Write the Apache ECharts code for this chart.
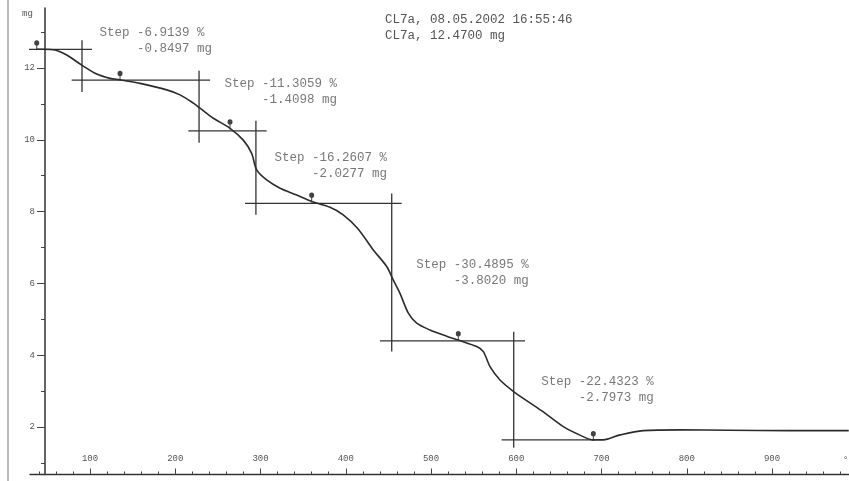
<!DOCTYPE html>
<html>
<head>
<meta charset="utf-8">
<script src="https://cdn.jsdelivr.net/npm/echarts@6/dist/echarts.min.js"></script>
<style>
  html, body { margin: 0; padding: 0; background: #fff; }
  #chart { width: 849px; height: 481px; }
</style>
</head>
<body>
<div id="chart"></div>
<script>
// TGA curve, temperature (°C) vs mass (mg)
var tempC = [37.5, 45, 58.9, 72.7, 90.3, 107.8, 123.5, 135.2, 158.7, 190, 205.6, 221.2, 229, 244.6, 264.2,
  279.8, 289.6, 295.5, 307.2, 322.9, 342.5, 360, 381.5, 397, 414, 432.3, 448, 455.8, 463.6, 473.4, 483.2,
  498.8, 518.4, 532, 553.6, 561.4, 569.2, 580.9, 598.5, 630, 655.2, 676, 690.4, 702, 721.7, 749, 792, 850, 920, 990];
var massMg = [12.52, 12.52, 12.50, 12.36, 12.08, 11.83, 11.71, 11.67, 11.57, 11.39, 11.25, 11.02, 10.88, 10.60, 10.32,
  9.99, 9.62, 9.16, 8.88, 8.65, 8.46, 8.28, 8.12, 7.91, 7.53, 6.93, 6.47, 6.09, 5.72, 5.17, 4.89,
  4.70, 4.53, 4.42, 4.24, 4.10, 3.68, 3.31, 2.96, 2.45, 2.01, 1.76, 1.64, 1.64, 1.78, 1.90, 1.92, 1.91, 1.90, 1.90];

// evaluation markers (inflection points)
var markerT = [37.5, 135.2, 264.2, 360, 532, 690.4];
var markerM = [12.52, 11.67, 10.32, 8.28, 4.42, 1.64];

// step construction lines
var stepSegments = [
  [[23.8, 12.52], [102.3, 12.52]],
  [[90.6, 12.77], [90.6, 11.33]],
  [[78.5, 11.66], [240.8, 11.66]],
  [[227.9, 11.92], [227.9, 9.92]],
  [[215.3, 10.25], [307.2, 10.25]],
  [[294.6, 10.53], [294.6, 7.91]],
  [[281.8, 8.23], [465.6, 8.23]],
  [[453.9, 8.50], [453.9, 4.10]],
  [[440.2, 4.40], [610.3, 4.40]],
  [[597, 4.65], [597, 1.42]],
  [[582.8, 1.64], [690.4, 1.64]]
];

// step texts
var stepPct = ['-6.9139', '-11.3059', '-16.2607', '-30.4895', '-22.4323'];
var stepMg = ['-0.8497', '-1.4098', '-2.0277', '-3.8020', '-2.7973'];
var labelT = [111.7, 258.4, 317, 483.2, 629.9];
var labelM = [13.19, 11.77, 9.71, 6.74, 3.48];

// ticks
var xMajor = [100, 200, 300, 400, 500, 600, 700, 800, 900];
var xMinor = [];
for (var t = 40; t <= 980; t += 20) xMinor.push(t);
var yMajor = [2, 4, 6, 8, 10, 12];
var yMinor = [1, 2, 3, 4, 5, 6, 7, 8, 9, 10, 11, 12, 13];

var mono = 'Liberation Mono';
var ink = '#2b2b2b';
var textGray = '#555';

var myChart = echarts.init(document.getElementById('chart'));

var curveData = tempC.map(function (v, i) { return [v, massMg[i]]; });
var markerData = markerT.map(function (v, i) { return [v, markerM[i]]; });
var labelData = labelT.map(function (v, i) {
  return {
    value: [v, labelM[i]],
    label: { formatter: 'Step ' + stepPct[i] + ' %\n     ' + stepMg[i] + ' mg' }
  };
});

var series = [];
stepSegments.forEach(function (seg) {
  series.push({
    type: 'line',
    data: seg,
    symbol: 'none',
    clip: false,
    silent: true,
    lineStyle: { color: '#333', width: 1.3 }
  });
});
series.push({
  type: 'line',
  data: curveData,
  symbol: 'none',
  smooth: 0.3,
  clip: false,
  lineStyle: { color: ink, width: 1.6 }
});
series.push({
  type: 'scatter',
  data: markerData,
  symbol: 'path://M3,0A3,3,0,1,1,3,6A3,3,0,1,1,3,0ZM2.4,5H3.6V11H2.4Z',
  symbolSize: [5, 10],
  symbolOffset: [0, -4],
  clip: false,
  itemStyle: { color: '#111' }
});
series.push({
  type: 'scatter',
  data: labelData,
  symbolSize: 1,
  itemStyle: { color: 'rgba(0,0,0,0)' },
  label: {
    show: true,
    position: [0, 0],
    align: 'left',
    verticalAlign: 'top',
    fontFamily: mono,
    fontSize: 12.5,
    lineHeight: 16,
    color: textGray
  }
});

var option = {
  animation: false,
  backgroundColor: '#fff',
  grid: { left: 30, right: 0, top: 8, bottom: 6.5 },
  xAxis: [
    {
      type: 'value',
      min: 29.6,
      max: 990.3,
      axisLine: { show: true, lineStyle: { color: '#333', width: 1.3 } },
      axisTick: { show: true, inside: true, length: 3, customValues: xMinor, lineStyle: { color: '#444' } },
      axisLabel: { show: false },
      splitLine: { show: false }
    },
    {
      type: 'value',
      position: 'bottom',
      min: 29.6,
      max: 990.3,
      axisLine: { show: false },
      axisTick: { show: true, inside: true, length: 6, customValues: xMajor, lineStyle: { color: '#444' } },
      axisLabel: {
        show: true, inside: true, margin: 11, customValues: xMajor,
        fontFamily: mono, fontSize: 9, color: textGray
      },
      splitLine: { show: false }
    }
  ],
  yAxis: [
    {
      type: 'value',
      min: 0.677,
      max: 13.67,
      offset: -15,
      axisLine: { show: true, lineStyle: { color: '#333', width: 1.5 } },
      axisTick: { show: true, length: 4, customValues: yMinor, lineStyle: { color: '#444' } },
      axisLabel: { show: false },
      splitLine: { show: false }
    },
    {
      type: 'value',
      position: 'left',
      min: 0.677,
      max: 13.67,
      offset: -15,
      axisLine: { show: false },
      axisTick: { show: true, length: 8, customValues: yMajor, lineStyle: { color: '#444' } },
      axisLabel: {
        show: true, margin: 10, customValues: yMajor,
        fontFamily: mono, fontSize: 9, color: textGray
      },
      splitLine: { show: false }
    }
  ],
  graphic: [
    { type: 'line', shape: { x1: 8, y1: 0, x2: 8, y2: 481 }, style: { stroke: '#777', lineWidth: 1 } },
    { type: 'text', left: 22, top: 9, style: { text: 'mg', font: '9px ' + mono, fill: textGray } },
    { type: 'text', left: 843, top: 455, style: { text: '°C', font: '9px ' + mono, fill: textGray } },
    {
      type: 'text', left: 385, top: 12,
      style: {
        text: 'CL7a, 08.05.2002 16:55:46\nCL7a, 12.4700 mg',
        font: '12.5px ' + mono, lineHeight: 16, fill: textGray
      }
    }
  ],
  series: series
};

myChart.setOption(option);
</script>
</body>
</html>
